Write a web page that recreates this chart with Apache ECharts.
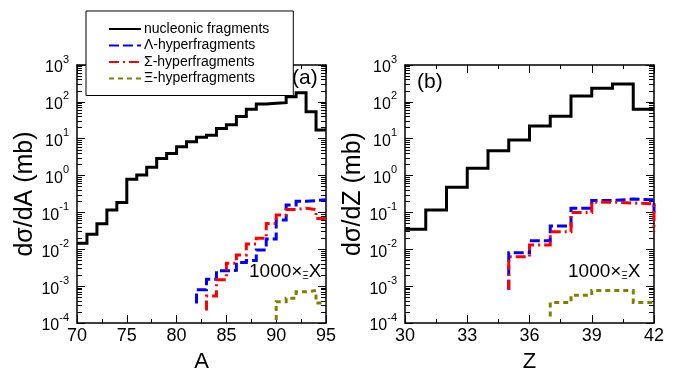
<!DOCTYPE html>
<html><head><meta charset="utf-8">
<script src="https://cdn.jsdelivr.net/npm/echarts@6/dist/echarts.min.js"></script>
<style>html,body{margin:0;padding:0;background:#fff}#c{width:694px;height:381px}</style>
</head><body><div id="c"></div>
<script>
// ---------- Panel (a): mass number A (bins [A, A+1]) ----------
const nucleonAStart = 70;
const nucleonA = [0.0146,0.0255,0.049,0.116,0.186,0.79,1.04,1.68,2.9,4.0,6.1,8.3,11,12.5,19,24,40,63,88,91,95,138,177,54,17.3];
const lambdaAStart = 82;
const lambdaA = [8e-4,1.55e-3,2.6e-3,2.7e-3,4.4e-3,5e-3,9.6e-3,0.019,0.062,0.16,0.2,0.21,0.22];
const lambdaAEdges = [3.4e-4, 0.22];
const sigmaAStart = 83;
const sigmaA = [5.4e-4,1.5e-3,4.2e-3,7e-3,0.014,0.02,0.05,0.085,0.12,0.13,0.12,0.068];
const sigmaAEdges = [2.2e-4, 0.068];
const xiAStart = 90;
const xiA = [3.8e-4,4.7e-4,7e-4,7.6e-4,3.5e-4];
const xiAEdges = [1.2e-4, 3.5e-4];

// ---------- Panel (b): charge number Z (bins [Z, Z+1]) ----------
const nucleonZStart = 30;
const nucleonZ = [0.035,0.116,0.48,1.57,4.7,9.2,22,41,144,233,305,63];
const lambdaZStart = 35;
const lambdaZ = [8.1e-3,0.017,0.043,0.13,0.21,0.23,0.22];
const lambdaZEdges = [8e-4, 0.1];
const sigmaZStart = 35;
const sigmaZ = [6.3e-3,0.013,0.03,0.099,0.19,0.18,0.17];
const sigmaZEdges = [8e-4, 0.03];
const xiZStart = 37;
const xiZ = [3.6e-4,5.7e-4,7.6e-4,7.6e-4,3.6e-4];
const xiZEdges = [1.5e-4, 3.6e-4];

const seriesNames = ['nucleonic fragments','\u039B-hyperfragments','\u03A3-hyperfragments','\u039E-hyperfragments'];
const yExponents = [-4,-3,-2,-1,0,1,2,3];

function stepData(start, vals, edges) {
  const e = edges || [vals[0], vals[vals.length-1]];
  const d = [[start, e[0]]];
  vals.forEach((v,i)=>d.push([start+i, v]));
  d.push([start+vals.length, e[1]]);
  return d;
}
const FONT = 'Liberation Sans, Arial, sans-serif';
const styles = [
  {color:'#000000', width:3, type:'solid'},
  {color:'#0000ff', width:3, type:[10,4]},
  {color:'#ff0000', width:3, type:[10,4,2,4]},
  {color:'#808000', width:3, type:[5,4]}
];
function lineSeries(i, grid, data) {
  return {type:'line', name:seriesNames[i], xAxisIndex:grid*2, yAxisIndex:grid*2, data,
    step:'end', symbol:'none', showSymbol:false, clip:true, z: 2+i,
    lineStyle:{color:styles[i].color, width:styles[i].width, type:styles[i].type, cap:'butt', join:'miter'},
    itemStyle:{color:styles[i].color}, animation:false};
}
// minor log ticks at 2..9 x 10^n, expressed as exponents for a linear exponent axis
const minorExps = [];
for (let e = yExponents[0]; e < yExponents[yExponents.length-1]; e++) for (let k=2;k<=9;k++) minorExps.push(Math.log10(k*Math.pow(10,e)));

function xAxes(grid, min, max, interval, name, top) {
  return {type:'value', gridIndex:grid, min, max, interval, position: top?'top':'bottom',
    name: top?'':name, nameLocation:'middle', nameGap:28,
    nameTextStyle:{fontSize:22, fontFamily:FONT, color:'#000'},
    axisLine:{show:true, onZero:false, lineStyle:{color:'#000', width:1.5}},
    axisTick:{show:true, inside:true, length:8, lineStyle:{color:'#000', width:1}},
    minorTick:{show:true, splitNumber:2, length:4, lineStyle:{color:'#000', width:1}},
    splitLine:{show:false}, minorSplitLine:{show:false},
    axisLabel:{show:!top, fontSize:18, fontFamily:FONT, color:'#000', margin:4}};
}
function yAxes(grid, name, right) {
  return {type:'log', logBase:10, gridIndex:grid, min:1e-4, max:1e3,
    position: right?'right':'left',
    name: right?'':name, nameLocation:'middle', nameGap:38, nameRotate:90,
    nameTextStyle:{fontSize:25, fontFamily:FONT, color:'#000'},
    axisLine:{show:true, onZero:false, lineStyle:{color:'#000', width:1.5}},
    axisTick:{show:true, inside:true, length:8, lineStyle:{color:'#000', width:1}},
    splitLine:{show:false},
    axisLabel:{show:!right, margin:8, fontFamily:FONT,
      formatter: v => '{b|10}{s|' + Math.round(Math.log10(v)) + '}',
      rich:{b:{fontSize:16, fontFamily:FONT, color:'#000', verticalAlign:'bottom', lineHeight:22},
            s:{fontSize:11, fontFamily:FONT, color:'#000', verticalAlign:'top', lineHeight:22}}}};
}
// exponent axis (linear in log10) used only to carry the minor log ticks
function minorAxis(grid, right) {
  return {type:'value', gridIndex:grid, min:yExponents[0], max:yExponents[yExponents.length-1],
    position: right?'right':'left', offset:0,
    axisLine:{show:false}, splitLine:{show:false}, axisLabel:{show:false},
    axisTick:{show:true, inside:true, length:5, customValues:minorExps, lineStyle:{color:'#000', width:1}}};
}
const chart = echarts.init(document.getElementById('c'));
const option = {
  animation:false,
  backgroundColor:'#fff',
  grid:[{left:77, right:368, top:65, bottom:58}, {left:405, right:40, top:65, bottom:58}],
  xAxis:[xAxes(0,70,95,5,'A',false), xAxes(0,70,95,5,'',true), xAxes(1,30,42,3,'Z',false), xAxes(1,30,42,3,'',true)],
  yAxis:[yAxes(0,'d\u03C3/dA (mb)',false), yAxes(0,'',true), yAxes(1,'d\u03C3/dZ (mb)',false), yAxes(1,'',true),
         minorAxis(0,false), minorAxis(0,true), minorAxis(1,false), minorAxis(1,true)],
  legend:{data:seriesNames, left:86, top:11, orient:'vertical', itemWidth:32, itemHeight:14, itemGap:2.5,
    padding:[11,24,10,22], borderColor:'#000', borderWidth:1, backgroundColor:'#fff',
    itemStyle:{opacity:0},
    textStyle:{fontSize:14, fontFamily:FONT, color:'#000', padding:[0,0,0,-2]}, z:10},
  series:[
    lineSeries(0,0,stepData(nucleonAStart,nucleonA)),
    lineSeries(1,0,stepData(lambdaAStart,lambdaA,lambdaAEdges)),
    lineSeries(2,0,stepData(sigmaAStart,sigmaA,sigmaAEdges)),
    lineSeries(3,0,stepData(xiAStart,xiA,xiAEdges)),
    lineSeries(0,1,stepData(nucleonZStart,nucleonZ)),
    lineSeries(1,1,stepData(lambdaZStart,lambdaZ,lambdaZEdges)),
    lineSeries(2,1,stepData(sigmaZStart,sigmaZ,sigmaZEdges)),
    lineSeries(3,1,stepData(xiZStart,xiZ,xiZEdges))
  ],
  graphic:[
    {type:'text', left:292, top:68, style:{text:'(a)', fontSize:21, fontFamily:FONT, fill:'#000'}},
    {type:'text', left:417, top:72, style:{text:'(b)', fontSize:21, fontFamily:FONT, fill:'#000'}},
    {type:'text', left:249, top:262, style:{text:'1000\u00D7{u|\u039E}X', fontSize:19, fontFamily:FONT, fill:'#000',
      rich:{u:{fontSize:10, fontFamily:FONT, fill:'#000', verticalAlign:'bottom', padding:[8,0,0,0]}}}},
    {type:'text', left:568, top:262, style:{text:'1000\u00D7{u|\u039E}X', fontSize:19, fontFamily:FONT, fill:'#000',
      rich:{u:{fontSize:10, fontFamily:FONT, fill:'#000', verticalAlign:'bottom', padding:[8,0,0,0]}}}}
  ]
};
chart.setOption(option);
</script>
</body></html>
